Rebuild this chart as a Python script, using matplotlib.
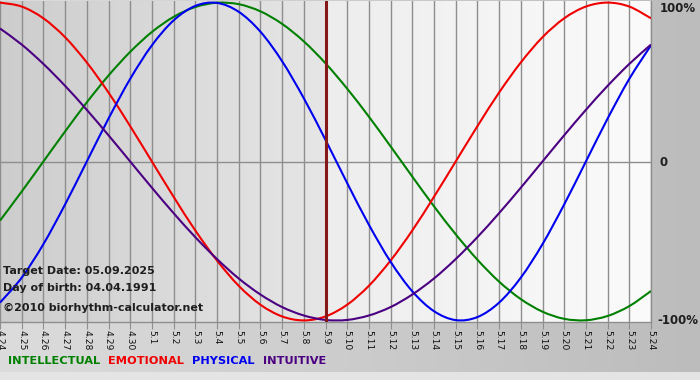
import numpy as np
import matplotlib
matplotlib.use("Agg")
import matplotlib.pyplot as plt
from matplotlib.colors import LinearSegmentedColormap
from matplotlib.path import Path
from matplotlib.patches import PathPatch

# ---------------- data ----------------
dates = ["4.24", "4.25", "4.26", "4.27", "4.28", "4.29", "4.30",
         "5.1", "5.2", "5.3", "5.4", "5.5", "5.6", "5.7", "5.8", "5.9",
         "5.10", "5.11", "5.12", "5.13", "5.14", "5.15", "5.16", "5.17",
         "5.18", "5.19", "5.20", "5.21", "5.22", "5.23", "5.24"]

intellectual = [-0.372, -0.189, 0.000, 0.189, 0.372, 0.541, 0.690, 0.815,
                0.910, 0.972, 0.999, 0.990, 0.945, 0.866, 0.756, 0.618,
                0.458, 0.282, 0.095, -0.095, -0.282, -0.458, -0.618, -0.756,
                -0.866, -0.945, -0.990, -0.999, -0.972, -0.910, -0.815]

emotional = [1.000, 0.975, 0.901, 0.782, 0.623, 0.434, 0.222, 0.000,
             -0.222, -0.434, -0.623, -0.782, -0.901, -0.975, -1.000, -0.975,
             -0.901, -0.782, -0.623, -0.434, -0.222, 0.000, 0.222, 0.434,
             0.623, 0.782, 0.901, 0.975, 1.000, 0.975, 0.901]

physical = [-0.888, -0.731, -0.520, -0.270, 0.000, 0.270, 0.520, 0.731,
            0.888, 0.979, 0.998, 0.942, 0.817, 0.631, 0.398, 0.136,
            -0.136, -0.398, -0.631, -0.817, -0.942, -0.998, -0.979, -0.888,
            -0.731, -0.520, -0.270, 0.000, 0.270, 0.520, 0.731]

intuitive = [0.837, 0.736, 0.614, 0.476, 0.325, 0.165, 0.000, -0.165,
             -0.325, -0.476, -0.614, -0.736, -0.837, -0.916, -0.969, -0.997,
             -0.997, -0.969, -0.916, -0.837, -0.736, -0.614, -0.476, -0.325,
             -0.165, 0.000, 0.165, 0.325, 0.476, 0.614, 0.736]

series_names = ["INTELLECTUAL", "EMOTIONAL", "PHYSICAL", "INTUITIVE"]
series_values = [intellectual, emotional, physical, intuitive]
series_colors = ["#008000", "#f00000", "#0000f0", "#4b0082"]

target_label = "5.9"
ytick_values = [1, 0, -1]
ytick_labels = ["100%", "0", "-100%"]
info_lines = ["Target Date: 05.09.2025",
              "Day of birth: 04.04.1991",
              "\u00a92010 biorhythm-calculator.net"]


def smooth_path(xs, ys):
    """Smooth (Catmull-Rom style) Bezier path through the data points."""
    xs = np.asarray(xs, float)
    ys = np.asarray(ys, float)
    n = len(xs)
    verts = [(xs[0], ys[0])]
    codes = [Path.MOVETO]
    for i in range(n - 1):
        i0 = max(i - 1, 0)
        i3 = min(i + 2, n - 1)
        c1 = (xs[i] + (xs[i + 1] - xs[i0]) / 6, ys[i] + (ys[i + 1] - ys[i0]) / 6)
        c2 = (xs[i + 1] - (xs[i3] - xs[i]) / 6, ys[i + 1] - (ys[i3] - ys[i]) / 6)
        verts += [c1, c2, (xs[i + 1], ys[i + 1])]
        codes += [Path.CURVE4] * 3
    return Path(verts, codes)


# ---------------- figure ----------------
W, H = 700, 380
fig = plt.figure(figsize=(W / 100, H / 100), dpi=100)

grad = np.linspace(0, 1, 256)[None, :]

bg = fig.add_axes([0, 0, 1, 1], zorder=0)
bg.axis("off")
bg.imshow(grad, aspect="auto",
          cmap=LinearSegmentedColormap.from_list("bg", ["#dcdcdc", "#bcbcbc"]),
          extent=[0, 1, 0, 1])
bg.add_patch(plt.Rectangle((0, 0), 1, 8 / H, color="#e4e4e4", lw=0))
bg.set_xlim(0, 1)
bg.set_ylim(0, 1)

ax_left, ax_right = 0, 651 / W
ax_top, ax_bot = 1 - 1 / H, 1 - 322 / H
ax = fig.add_axes([ax_left, ax_bot, ax_right - ax_left, ax_top - ax_bot], zorder=1)

x = np.arange(len(dates))
ti = dates.index(target_label)
ylo, yhi = -1.01, 1.01

ax.imshow(grad, aspect="auto", zorder=0,
          cmap=LinearSegmentedColormap.from_list("l", ["#cdcdcd", "#e6e6e6"]),
          extent=[0, ti, ylo, yhi])
ax.imshow(grad, aspect="auto", zorder=0,
          cmap=LinearSegmentedColormap.from_list("r", ["#ededed", "#fbfbfb"]),
          extent=[ti, len(dates) - 1, ylo, yhi])

ax.set_xlim(0, len(dates) - 1)
ax.set_ylim(ylo, yhi)

for xi in x:
    ax.axvline(xi, color="#8e8e8e", lw=1, zorder=1)
ax.axhline(0, color="#8e8e8e", lw=1, zorder=1)

for vals, col in zip(series_values, series_colors):
    ax.add_patch(PathPatch(smooth_path(x, vals), facecolor="none",
                           edgecolor=col, lw=1.5, zorder=3))

ax.axvline(ti, color="#861818", lw=2.2, zorder=4)

ax.set_xticks(x)
ax.set_xticklabels(dates, rotation=270, fontsize=6.6, color="#101010")
ax.tick_params(axis="x", length=5, color="#8e8e8e", pad=1)

ax.set_yticks([])
for s in ["top", "left"]:
    ax.spines[s].set_visible(False)
for s in ["bottom", "right"]:
    ax.spines[s].set_color("#8e8e8e")
    ax.spines[s].set_linewidth(1)

# right-side percentage labels
ylab_pos = {1: (660, 9), 0: (660, 162), -1: (657, 321)}
for v, lab in zip(ytick_values, ytick_labels):
    px, py = ylab_pos[v]
    fig.text(px / W, 1 - py / H, lab, fontsize=8.5, fontweight="bold",
             color="#1e1e1e", ha="left", va="center", zorder=5)

# info text (bottom-left inside plot)
info_y = [271, 288, 308]
for txt, yp in zip(info_lines, info_y):
    fig.text(3 / W, 1 - yp / H, txt, fontsize=8.0, fontweight="bold",
             color="#1e1e1e", ha="left", va="center", zorder=5)

# legend row
fig.canvas.draw()
renderer = fig.canvas.get_renderer()
xpos = 8
for name, col in zip(series_names, series_colors):
    t = fig.text(xpos / W, 1 - 361 / H, name, fontsize=8.2, fontweight="bold",
                 color=col, ha="left", va="center", zorder=5)
    bb = t.get_window_extent(renderer=renderer)
    xpos += bb.width + 8

fig.savefig("out.png", dpi=100)
